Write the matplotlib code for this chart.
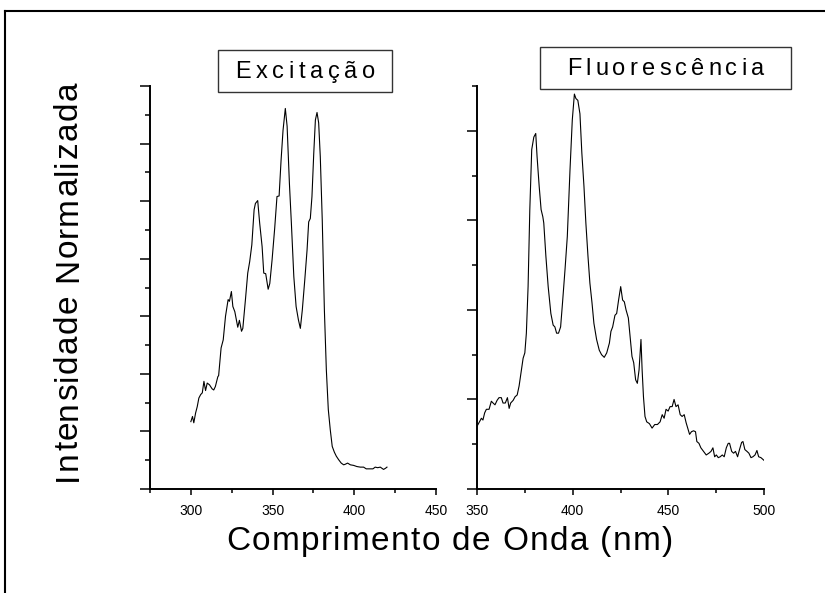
import numpy as np
import matplotlib
matplotlib.use("Agg")
from matplotlib import pyplot as plt
from matplotlib import transforms, font_manager
from matplotlib.ft2font import FT2Font
from matplotlib.lines import Line2D
from matplotlib.patches import Rectangle
from matplotlib.ticker import MultipleLocator

FONT = 'Liberation Sans'
plt.rcParams['font.family'] = [FONT, 'DejaVu Sans']

# espectro de excitacao (u.a.)
exc_nm = [300, 301, 301.8, 302.9, 303.9, 304.9, 306, 307, 308, 309, 310, 311.4, 313, 314,
          315, 316.5, 317, 318.5, 319.8, 321.2, 322.8, 323.6, 324.8, 325.7, 326.9, 328.7,
          329.7, 331, 331.8, 333.4, 334.8, 336, 337.3, 338.7, 339.5, 340.9, 342.1, 343.6,
          344.6, 345.8, 347.3, 348.3, 349.7, 351.3, 352.7, 354, 355.2, 356.4, 357.8, 358.9,
          360.3, 361.5, 363, 364.4, 365.8, 367, 368.2, 369.7, 371.1, 372.1, 373.1, 374.1,
          375.2, 376.2, 377.2, 378.2, 379.2, 380.4, 381.7, 382.9, 384.1, 385.3, 386.5,
          387.8, 389, 390.4, 392, 393.5, 394.5, 395.9, 397.6, 399.6, 401.6, 403.7, 405.7,
          407.3, 409.8, 411.4, 412.8, 414.3, 415.9, 416.9, 417.9, 419.1, 420]
exc_int = [1.17, 1.26, 1.15, 1.32, 1.43, 1.58, 1.64, 1.67, 1.87, 1.71, 1.84, 1.81, 1.74, 1.72,
           1.78, 1.95, 1.97, 2.45, 2.59, 3.0, 3.29, 3.26, 3.43, 3.17, 3.08, 2.81,
           2.93, 2.74, 2.79, 3.29, 3.75, 3.95, 4.24, 4.85, 4.96, 5.01, 4.62, 4.21,
           3.75, 3.74, 3.47, 3.57, 3.98, 4.53, 5.08, 5.09, 5.71, 6.23, 6.61, 6.30,
           5.31, 4.62, 3.69, 3.17, 2.94, 2.79, 3.11, 3.63, 4.15, 4.64, 4.70, 5.08,
           5.83, 6.41, 6.54, 6.36, 5.77, 4.67, 3.11, 2.07, 1.38, 1.03, 0.74,
           0.64, 0.57, 0.51, 0.45, 0.42, 0.43, 0.45, 0.42, 0.41, 0.39, 0.38, 0.38,
           0.35, 0.35, 0.35, 0.38, 0.37, 0.38, 0.36, 0.34, 0.36, 0.38]

# espectro de fluorescencia (u.a.)
flu_nm = [350, 351, 352.3, 353.1, 354, 354.9, 356.3, 357.5, 358.4, 359.4, 360.5, 361.5, 362.7,
          363.6, 364.8, 365.9, 366.8, 367.6, 368.9, 369.9, 371, 372, 373.2, 374.1, 375,
          375.8, 376.7, 377.6, 378.6, 379.7, 380.7, 381.4, 382.5, 383.5, 384.4, 384.9,
          386, 387.2, 388.6, 389.8, 390.7, 391.6, 392.6, 393.7, 394.7, 396, 397.2, 398.6,
          399.8, 400.9, 401.7, 402.7, 403.8, 404.8, 405.9, 406.9, 408, 409, 410.1, 411.1,
          412.5, 413.9, 415.1, 416.5, 417.8, 419.2, 420, 420.9, 422.1, 423, 424, 425.1,
          426.1, 427, 427.9, 429.1, 430, 431, 431.9, 432.9, 433.8, 434.7, 435.7, 436.3,
          437, 437.8, 438.7, 440.1, 441.5, 442.9, 444.3, 445.7, 446.8, 447.8, 448.8,
          449.9, 450.9, 452, 453, 454, 455.1, 456.2, 457.2, 458.3, 459.3, 460.4, 461.1,
          462.1, 463.2, 464.2, 464.9, 466, 467, 468.4, 469.8, 471.2, 472.3, 473.3, 474.2,
          475.1, 476.1, 477.1, 478.2, 479.2, 480.3, 481.3, 482, 483.1, 484.1, 485.1,
          486.2, 487.2, 488.3, 489, 490, 491.1, 492.1, 493.2, 494.2, 495.3, 496.3,
          497.2, 498.4, 500]
flu_int = [0.70, 0.74, 0.79, 0.77, 0.85, 0.89, 0.89, 0.98, 0.96, 0.94, 0.99, 1.02, 1.02,
           0.96, 0.96, 1.02, 0.90, 0.96, 0.99, 1.03, 1.05, 1.15, 1.33, 1.46, 1.52,
           1.74, 2.26, 3.12, 3.79, 3.93, 3.97, 3.71, 3.38, 3.12, 3.04, 2.97,
           2.60, 2.26, 1.96, 1.83, 1.81, 1.74, 1.74, 1.81, 2.08, 2.45, 2.82, 3.56,
           4.12, 4.41, 4.36, 4.34, 4.19, 3.75, 3.38, 2.97, 2.60, 2.30, 2.08, 1.85,
           1.67, 1.55, 1.50, 1.47, 1.52, 1.63, 1.76, 1.81, 1.94, 1.96, 2.11, 2.26,
           2.11, 2.09, 2.00, 1.91, 1.70, 1.48, 1.41, 1.22, 1.18, 1.33, 1.67, 1.33,
           1.03, 0.81, 0.75, 0.73, 0.68, 0.72, 0.72, 0.75, 0.83, 0.79, 0.89,
           0.87, 0.92, 0.92, 1.00, 0.92, 0.94, 0.83, 0.81, 0.83, 0.74, 0.66, 0.61,
           0.64, 0.65, 0.64, 0.53, 0.51, 0.46, 0.42, 0.38, 0.40, 0.42, 0.46, 0.36,
           0.38, 0.35, 0.36, 0.38, 0.36, 0.46, 0.51, 0.51, 0.42, 0.40, 0.42,
           0.36, 0.44, 0.52, 0.53, 0.44, 0.42, 0.40, 0.35, 0.36, 0.38, 0.43,
           0.36, 0.35, 0.32]

fig = plt.figure(figsize=(8.25, 5.93), dpi=100)

_ft = FT2Font(font_manager.findfont(font_manager.FontProperties(family=FONT)))


def spaced_text(x, y, s, size, gap, rotation=0):
    """Texto com espacamento extra entre letras (em pontos), centrado em (x, y)."""
    _ft.set_size(size, 72)
    adv = [_ft.load_char(ord(c)).linearHoriAdvance / 65536 for c in s]
    pos = -(sum(adv) + gap * (len(s) - 1)) / 2
    for c, a in zip(s, adv):
        d = pos + a / 2
        dx, dy = (d, 0) if rotation == 0 else (0, d)
        tr = transforms.offset_copy(fig.transFigure, fig=fig, x=dx, y=dy, units='points')
        fig.text(x, y, c, transform=tr, fontsize=size, rotation=rotation,
                 rotation_mode='anchor', ha='center', va='baseline')
        pos += a + gap


def setup(ax, xlim, ylim, xmajor):
    ax.set_xlim(*xlim)
    ax.set_ylim(*ylim)
    for side in ('top', 'right'):
        ax.spines[side].set_visible(False)
    for side in ('left', 'bottom'):
        ax.spines[side].set_linewidth(1.4)
    ax.set_xticks(xmajor)
    ax.xaxis.set_minor_locator(MultipleLocator(25))
    ax.yaxis.set_major_locator(MultipleLocator(1))
    ax.yaxis.set_minor_locator(MultipleLocator(0.5))
    ax.tick_params(axis='x', which='major', direction='out', length=4.5, width=1.1,
                   labelsize=10, pad=6)
    ax.tick_params(axis='x', which='minor', direction='out', length=3, width=1.1)
    ax.tick_params(axis='y', which='major', direction='out', length=7.2, width=1.1,
                   labelleft=False)
    ax.tick_params(axis='y', which='minor', direction='out', length=3.6, width=1.1)


ax1 = fig.add_axes([150 / 825, 104 / 593, 286 / 825, 403 / 593])
ax1.plot(exc_nm, exc_int, color='k', lw=0.8)
setup(ax1, (275, 450), (0, 7), [300, 350, 400, 450])

ax2 = fig.add_axes([477 / 825, 104 / 593, 287 / 825, 403 / 593])
ax2.plot(flu_nm, flu_int, color='k', lw=0.8)
setup(ax2, (350, 500), (0, 4.5), [350, 400, 450, 500])

# caixas com os nomes dos espectros
fig.patches.append(Rectangle((218 / 825, 501 / 593), 174 / 825, 42 / 593,
                             transform=fig.transFigure, fill=False,
                             edgecolor='#333333', lw=1))
fig.patches.append(Rectangle((540 / 825, 504 / 593), 251 / 825, 42 / 593,
                             transform=fig.transFigure, fill=False,
                             edgecolor='#333333', lw=1))
spaced_text(305 / 825, (593 - 78) / 593, 'Excitação', 17, 3.4)
spaced_text(665.5 / 825, (593 - 75) / 593, 'Fluorescência', 17, 3.0)

# rotulos dos eixos
spaced_text(449.5 / 825, (593 - 550) / 593, 'Comprimento de Onda (nm)', 24, 1.0)
spaced_text(77 / 825, (593 - 281) / 593, 'Intensidade Normalizada', 24, 1.0, rotation=90)

# moldura externa
fig.lines.append(Line2D([5 / 825, 5 / 825], [0, 582 / 593], transform=fig.transFigure,
                        color='k', lw=1.5))
fig.lines.append(Line2D([5 / 825, 1], [582 / 593, 582 / 593], transform=fig.transFigure,
                        color='k', lw=1.5))

fig.savefig('out.png', dpi=100)
